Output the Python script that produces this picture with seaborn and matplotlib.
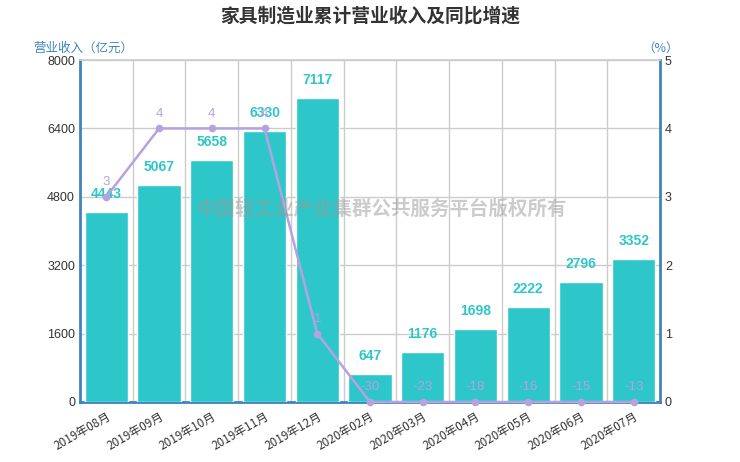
import numpy as np
import pandas as pd
import matplotlib
matplotlib.use("Agg")
import matplotlib.pyplot as plt
import seaborn as sns

# 数据
months = ["2019年08月", "2019年09月", "2019年10月", "2019年11月", "2019年12月",
          "2020年02月", "2020年03月", "2020年04月", "2020年05月", "2020年06月", "2020年07月"]
revenue = [4443, 5067, 5658, 6330, 7117, 647, 1176, 1698, 2222, 2796, 3352]
growth = [3, 4, 4, 4, 1, -30, -23, -18, -16, -15, -13]

sns.set_theme(style="white")
plt.rcParams['font.family'] = ['Noto Sans CJK SC', 'DejaVu Sans']
plt.rcParams['axes.unicode_minus'] = False

bar_color = "#2ec7c9"
line_color = "#b6a2de"
axis_color = "#3e84bd"

df = pd.DataFrame({"month": months, "revenue": revenue,
                   "growth": growth, "growth_plot": np.clip(growth, 0, None)})

fig = plt.figure(figsize=(7.4, 4.62), dpi=100)
ax = fig.add_axes([0.108, 0.13, 0.784, 0.74])

sns.barplot(data=df, x="month", y="revenue", color=bar_color, width=0.82,
            saturation=1, ax=ax, zorder=3)
ax.set_ylim(0, 8000)
ax.set_xlim(-0.5, len(months) - 0.5)
ax.set_yticks([0, 1600, 3200, 4800, 6400, 8000])
ax.set_xlabel("")
ax.set_ylabel("")

# 网格
ax.set_xticks(np.arange(len(months)) - 0.5, minor=True)
ax.grid(True, which="minor", axis="x", color="#cccccc", lw=1, zorder=0)
ax.grid(True, which="major", axis="y", color="#cccccc", lw=1, zorder=0)
ax.tick_params(axis="x", which="major", length=0, labelsize=8.5, colors="#333333",
               pad=6)
ax.tick_params(axis="x", which="minor", length=4, color="#333333", width=0.8)
ax.tick_params(axis="y", length=0, labelsize=9, colors="#333333")
for lab in ax.get_xticklabels():
    lab.set_rotation(30)
    lab.set_ha("right")
    lab.set_rotation_mode("anchor")
for lab in ax.get_yticklabels():
    lab.set_family("Liberation Sans")

for s in ["left", "right", "bottom"]:
    ax.spines[s].set_color(axis_color)
    ax.spines[s].set_linewidth(2)
ax.spines["top"].set_color("#cccccc")

for i, v in enumerate(revenue):
    ax.text(i, v + 260, str(v), ha="center", va="bottom", color=bar_color,
            fontsize=10, fontweight="bold", family="Liberation Sans", zorder=5)

ax2 = ax.twinx()
ax2.set_ylim(0, 5)
ax2.set_yticks([0, 1, 2, 3, 4, 5])
sns.lineplot(data=df, x="month", y="growth_plot", color=line_color, lw=1.8,
             marker="o", markersize=5.5, markeredgewidth=0, ax=ax2, zorder=6,
             clip_on=False)
ax2.set_ylabel("")
ax2.tick_params(axis="y", length=0, labelsize=9, colors="#333333")
for lab in ax2.get_yticklabels():
    lab.set_family("Liberation Sans")
for s in ["left", "right", "bottom", "top"]:
    ax2.spines[s].set_visible(False)
for i, (g, gp) in enumerate(zip(growth, df["growth_plot"])):
    ax2.text(i, gp + 0.13, str(g), ha="center", va="bottom", color=line_color,
             fontsize=9.5, family="Liberation Sans", zorder=7)

# 标题与轴名
fig.text(0.5, 0.965, "家具制造业累计营业收入及同比增速", ha="center", va="center",
         fontsize=13.5, fontweight="bold", color="#333333")
fig.text(0.113, 0.895, "营业收入（亿元）", ha="center", va="center",
         fontsize=9, color=axis_color)
fig.text(0.893, 0.895, "（%）", ha="center", va="center",
         fontsize=9, color=axis_color)

# 水印
fig.text(0.515, 0.548, "中国轻工业产业集群公共服务平台版权所有", ha="center",
         va="center", fontsize=14, fontweight="bold", color="#999999", alpha=0.5,
         zorder=10)

fig.savefig("out.png", dpi=100)
